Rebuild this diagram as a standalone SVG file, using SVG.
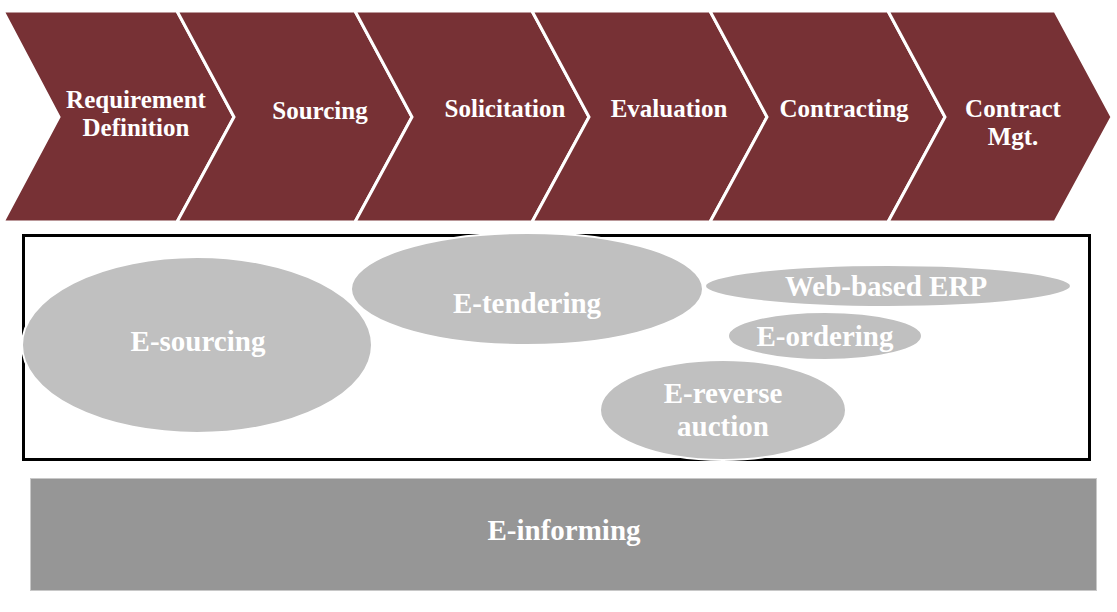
<svg xmlns="http://www.w3.org/2000/svg" width="1117" height="612" viewBox="0 0 1117 612">
<style>
.chev{fill:#773135;stroke:#ffffff;stroke-width:3;stroke-linejoin:miter}
.ell{fill:#C0C0C0;stroke:#ffffff;stroke-width:2}
.t{font-family:"Liberation Serif","Times New Roman",serif;font-weight:bold;fill:#ffffff;text-anchor:middle}
.ct{font-size:25px}
.et{font-size:29px}
</style>
<rect width="1117" height="612" fill="#ffffff"/>
<g id="chevrons">
<g id="n-requirement"><polygon class="chev" points="3,11 177,11 234,117 177,222 3,222 59,117"/>
<text class="t ct" x="136" y="108">Requirement</text><text class="t ct" x="136" y="136">Definition</text></g>
<g id="n-sourcing"><polygon class="chev" points="177,11 355,11 412,117 355,222 177,222 234,117"/>
<text class="t ct" x="320" y="119">Sourcing</text></g>
<g id="n-solicitation"><polygon class="chev" points="355,11 532,11 589,117 532,222 355,222 412,117"/>
<text class="t ct" x="505" y="117">Solicitation</text></g>
<g id="n-evaluation"><polygon class="chev" points="532,11 710,11 767,117 710,222 532,222 589,117"/>
<text class="t ct" x="669" y="117">Evaluation</text></g>
<g id="n-contracting"><polygon class="chev" points="710,11 888,11 945,117 888,222 710,222 767,117"/>
<text class="t ct" x="844" y="117">Contracting</text></g>
<g id="n-contractmgt"><polygon class="chev" points="888,11 1055,11 1112,117 1055,222 888,222 945,117"/>
<text class="t ct" x="1013" y="117">Contract</text><text class="t ct" x="1013" y="145">Mgt.</text></g>
</g>
<g id="box"><rect x="23.5" y="235.5" width="1066" height="224" fill="#ffffff" stroke="#000000" stroke-width="3"/></g>
<g id="n-esourcing"><ellipse class="ell" cx="197" cy="345" rx="175" ry="88"/><text class="t et" x="198" y="351">E-sourcing</text></g>
<g id="n-etendering"><ellipse class="ell" cx="527" cy="289" rx="176" ry="56"/><text class="t et" x="527" y="313">E-tendering</text></g>
<g id="n-erp"><ellipse class="ell" cx="888" cy="286" rx="183" ry="21"/><text class="t et" x="886" y="296">Web-based ERP</text></g>
<g id="n-eordering"><ellipse class="ell" cx="825" cy="336" rx="97" ry="24"/><text class="t et" x="825" y="346">E-ordering</text></g>
<g id="n-ereverse"><ellipse class="ell" cx="723" cy="410" rx="123" ry="50"/><text class="t et" x="723" y="403">E-reverse</text><text class="t et" x="723" y="436">auction</text></g>
<g id="n-einforming"><rect x="30.5" y="478.5" width="1066" height="112" fill="#969696" stroke="#C8C8C8" stroke-width="1"/><text class="t et" x="564" y="540">E-informing</text></g>
<g id="connectors"></g>
</svg>
